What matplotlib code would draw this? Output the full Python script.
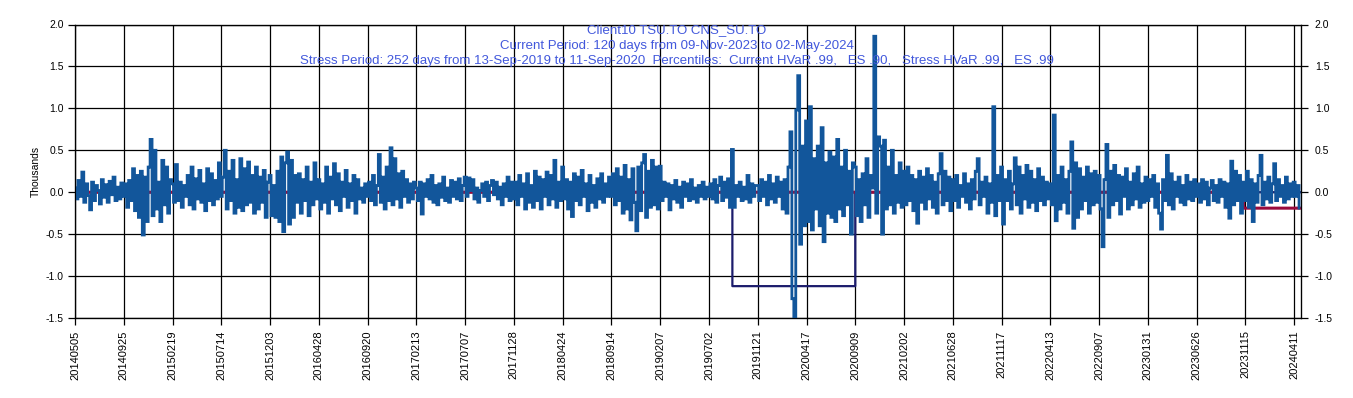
import matplotlib

matplotlib.use("Agg")
import matplotlib.pyplot as plt
import numpy as np

plt.rcParams["font.family"] = ["Liberation Sans", "DejaVu Sans"]

# daily P&L in thousands, every 4th trading day
DAY_STEP = 4
pnl = [
    # 20140505
    0.05, -0.08, 0.14, -0.05, 0.24, -0.12, 0.10, -0.04, -0.21, 0.12, -0.10, 0.08, 0.02,
    -0.14, 0.15, -0.06, 0.09, -0.12, 0.13, -0.03, 0.18, -0.10, 0.06, -0.08, 0.11,
    # 20140925
    -0.05, 0.10, -0.18, 0.14, -0.10, 0.28, -0.22, 0.20, -0.30, 0.25, -0.51, 0.18, -0.35,
    0.30, 0.63, -0.28, 0.50, -0.20, 0.12, -0.35, 0.38, -0.15, 0.30, -0.25, 0.15,
    # 20150219
    0.10, -0.12, 0.33, -0.10, 0.12, -0.18, 0.08, -0.05, 0.20, -0.15, 0.30, -0.20, 0.16,
    -0.08, 0.26, -0.12, 0.10, -0.22, 0.28, -0.10, 0.22, -0.15, 0.14, -0.08, 0.35,
    # 20150714
    -0.05, 0.18, 0.50, -0.20, 0.25, -0.10, 0.38, -0.25, 0.15, -0.18, 0.40, -0.22, 0.28,
    -0.15, 0.36, -0.12, 0.20, -0.25, 0.30, -0.20, 0.18, -0.12, 0.26, -0.30, 0.12,
    # 20151203
    0.20, -0.28, 0.08, -0.30, 0.25, -0.35, 0.42, -0.47, 0.35, 0.48, -0.38, 0.38, -0.30,
    0.20, -0.12, 0.22, -0.25, 0.15, -0.10, 0.30, -0.28, 0.12, -0.15, 0.35, -0.08,
    # 20160428
    0.15, -0.20, 0.10, -0.12, 0.30, -0.25, 0.18, -0.08, 0.34, -0.15, 0.22, -0.22, 0.12,
    -0.05, 0.26, -0.18, 0.10, -0.10, 0.20, -0.25, 0.15, -0.08, 0.05, -0.12, 0.10,
    # 20160920
    -0.05, 0.12, -0.10, 0.20, -0.15, 0.08, 0.45, -0.12, 0.18, -0.20, 0.30, -0.10, 0.53,
    -0.15, 0.40, -0.08, 0.22, -0.18, 0.25, -0.05, 0.15, -0.12, 0.10, -0.08, 0.12,
    # 20170213
    0.05, -0.10, 0.12, -0.26, 0.10, -0.05, 0.15, -0.08, 0.20, -0.12, 0.08, -0.15, 0.10,
    -0.06, 0.18, -0.10, 0.05, -0.12, 0.14, -0.05, 0.12, -0.08, 0.16, -0.10, 0.08,
    # 20170707
    0.18, -0.05, 0.17, 0.02, 0.15, -0.08, 0.05, -0.12, 0.02, 0.10, -0.05, 0.12, -0.10,
    0.08, 0.14, -0.03, 0.12, -0.08, 0.06, -0.15, 0.10, -0.05, 0.18, -0.10, 0.12,
    # 20171128
    -0.08, 0.12, -0.15, 0.20, -0.05, 0.10, -0.20, 0.22, -0.12, 0.08, -0.18, 0.25, -0.10,
    0.18, -0.20, 0.15, -0.05, 0.24, -0.15, 0.20, -0.08, 0.38, -0.18, 0.12, -0.10,
    # 20180424
    0.30, -0.08, 0.15, -0.20, 0.12, -0.29, 0.22, -0.10, 0.18, -0.15, 0.26, -0.05, 0.10,
    -0.22, 0.20, -0.12, 0.08, -0.18, 0.16, -0.08, 0.22, -0.12, 0.10, -0.05, 0.18,
    # 20180914
    -0.05, 0.22, -0.15, 0.28, -0.10, 0.18, -0.25, 0.32, -0.20, 0.15, -0.33, 0.28, -0.12,
    -0.46, 0.30, -0.22, 0.35, 0.45, -0.30, 0.25, -0.18, 0.38, -0.15, 0.30, -0.20,
    # 20190207
    0.31, -0.10, 0.12, -0.05, 0.10, -0.21, 0.08, -0.08, 0.14, -0.12, 0.06, -0.18, 0.12,
    -0.05, 0.10, -0.10, 0.15, -0.08, 0.05, -0.12, 0.08, -0.05, 0.12, -0.08, 0.06,
    # 20190702
    -0.05, 0.10, -0.08, 0.15, -0.12, 0.08, 0.18, -0.10, 0.12, -0.06, 0.16, -0.18, 0.51,
    -0.18, 0.08, -0.05, 0.12, -0.10, 0.06, -0.08, 0.20, -0.12, 0.10, -0.05, 0.08,
    # 20191121
    0.08, -0.10, 0.15, -0.05, 0.12, -0.15, 0.20, -0.08, 0.10, -0.12, 0.18, -0.05, 0.12,
    -0.20, 0.15, -0.25, 0.30, 0.72, -1.27, -1.50, 0.98, 1.39, -0.62, 0.55, -0.40,
    # 20200417
    0.85, -0.35, 1.02, -0.45, 0.40, -0.20, 0.55, -0.40, 0.77, -0.59, 0.35, -0.25, 0.48,
    -0.30, 0.42, -0.35, 0.63, -0.20, 0.30, -0.28, 0.50, -0.15, 0.25, -0.50, 0.35,
    # 20200909
    0.30, -0.28, 0.15, -0.35, 0.22, -0.15, 0.40, -0.30, 0.20, 0.05, 1.86, -0.25, 0.66,
    0.55, -0.50, 0.62, -0.20, 0.30, -0.15, 0.50, -0.25, 0.20, -0.12, 0.35, -0.18,
    # 20210202
    0.25, -0.15, 0.30, -0.10, 0.20, -0.22, 0.15, -0.37, 0.25, -0.12, 0.18, -0.20, 0.28,
    -0.08, 0.20, -0.18, 0.12, -0.25, 0.22, 0.46, -0.15, 0.25, -0.10, 0.18, -0.22,
    # 20210628
    0.15, -0.10, 0.20, -0.18, 0.08, -0.05, 0.22, -0.12, 0.10, -0.20, 0.15, -0.08, 0.25,
    0.40, -0.15, 0.12, -0.05, 0.18, -0.25, 0.10, -0.12, 1.02, -0.28, 0.20, -0.10,
    # 20211117
    0.30, -0.38, 0.15, -0.10, 0.25, -0.20, 0.10, 0.41, -0.15, 0.30, -0.25, 0.20, -0.08,
    0.32, -0.18, 0.25, -0.12, 0.15, -0.22, 0.28, -0.10, 0.18, -0.15, 0.12, -0.08,
    # 20220413
    0.10, -0.15, 0.92, -0.34, 0.20, -0.20, 0.30, -0.12, 0.15, -0.25, 0.25, 0.60, -0.43,
    0.35, -0.30, 0.28, -0.20, 0.18, -0.10, 0.30, -0.25, 0.22, -0.15, 0.25, -0.12,
    # 20220907
    0.20, -0.20, -0.65, 0.15, 0.57, -0.30, 0.25, -0.15, 0.32, -0.10, 0.20, -0.26, 0.18,
    -0.05, 0.28, -0.20, 0.12, -0.15, 0.22, -0.08, 0.30, -0.18, 0.10, -0.12, 0.18,
    # 20230131
    -0.10, 0.15, -0.05, 0.20, -0.18, 0.10, -0.25, -0.44, 0.15, -0.10, 0.44, -0.15, 0.22,
    -0.20, 0.12, -0.05, 0.18, -0.12, 0.08, -0.15, 0.20, -0.08, 0.12, -0.10, 0.15,
    # 20230626
    -0.05, 0.10, -0.12, 0.15, -0.08, 0.12, -0.15, 0.05, 0.14, -0.10, 0.08, -0.12, 0.15,
    -0.05, 0.12, -0.18, 0.10, -0.31, 0.37, -0.15, 0.25, -0.10, 0.20, -0.25, 0.12,
    # 20231115
    -0.10, 0.25, -0.18, 0.15, -0.35, 0.10, -0.12, 0.20, 0.44, -0.15, 0.12, -0.08, 0.18,
    -0.12, 0.10, 0.34, -0.10, 0.15, -0.05, 0.08, -0.12, 0.18, -0.08, 0.10, -0.05,
    # 20240411
    0.12, -0.05, 0.08, -0.19,
]

tick_labels = [
    "20140505", "20140925", "20150219", "20150714", "20151203", "20160428",
    "20160920", "20170213", "20170707", "20171128", "20180424", "20180914",
    "20190207", "20190702", "20191121", "20200417", "20200909", "20210202",
    "20210628", "20211117", "20220413", "20220907", "20230131", "20230626",
    "20231115", "20240411",
]
TICK_EVERY = 100  # trading days between labelled dates

n_days = 2516
current_days = 120
current_hvar = -0.19
stress_start = 1348
stress_days = 252
stress_hvar = -1.12

title_lines = [
    "Client10 TSU.TO CNS_SU.TO",
    "Current Period: 120 days from 09-Nov-2023 to 02-May-2024",
    "Stress Period: 252 days from 13-Sep-2019 to 11-Sep-2020  Percentiles:  "
    "Current HVaR .99,   ES .90,   Stress HVaR .99,   ES .99",
]

days = np.arange(n_days)
current_line = np.where(days >= n_days - current_days, current_hvar, 0.0)
stress_line = np.where(
    (days >= stress_start) & (days < stress_start + stress_days), stress_hvar, 0.0
)
pnl_days = np.arange(len(pnl)) * DAY_STEP

fig = plt.figure(figsize=(13.53, 3.98), dpi=100)
ax = fig.add_axes([75 / 1353, 1 - 318 / 398, (1301 - 75) / 1353, (318 - 24.5) / 398])

ax.plot(days, stress_line, color="#1c1c6c", linewidth=1.6, drawstyle="steps-post", zorder=2)
ax.plot(days, current_line, color="#990a3c", linewidth=2.2, drawstyle="steps-post", zorder=3)
ax.plot(pnl_days, pnl, color="#12569b", linewidth=2.0, drawstyle="steps-mid",
        solid_joinstyle="miter", solid_capstyle="butt", zorder=4)

yticks = np.arange(-1.5, 2.01, 0.5)
ax.set_ylim(-1.5, 2.0)
ax.set_xlim(0, n_days - 2)
ax.set_yticks(yticks)
ax.set_yticklabels([f"{v:.1f}" for v in yticks])
ax.set_xticks(np.arange(len(tick_labels)) * TICK_EVERY)
ax.set_xticklabels(tick_labels, rotation=90)
ax.grid(True, color="black", linewidth=0.9)
ax.set_axisbelow(True)
ax.tick_params(direction="out", length=5, width=0.9, labelsize=7.5, pad=3)
ax.tick_params(axis="x", labelsize=8, pad=4)
ax.set_ylabel("Thousands", fontsize=7.5, labelpad=4)
for spine in ax.spines.values():
    spine.set_linewidth(0.9)

ax2 = ax.twinx()
ax2.set_ylim(ax.get_ylim())
ax2.set_yticks(yticks)
ax2.set_yticklabels([f"{v:.1f}" for v in yticks])
ax2.tick_params(direction="out", length=5, width=0.9, labelsize=7.5, pad=5)

for i, line in enumerate(title_lines):
    fig.text(677 / 1353, 1 - (30 + 15.5 * i) / 398, line, ha="center", va="center",
             fontsize=9.5, color="#4258dc")

fig.savefig("out.png", dpi=100)
plt.close(fig)
